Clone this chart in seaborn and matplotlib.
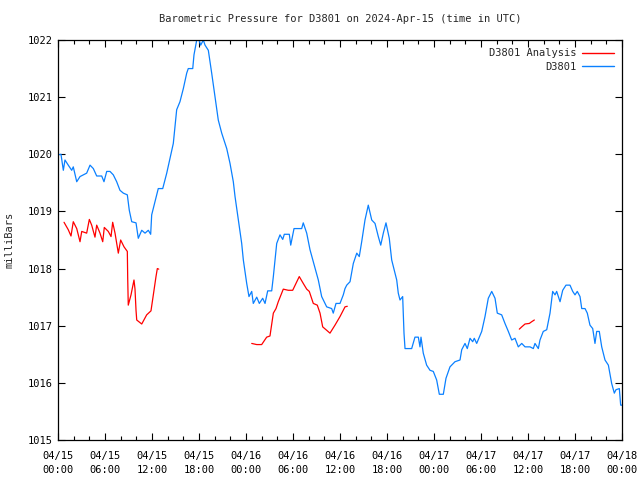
import pandas as pd
import seaborn as sns
import matplotlib.pyplot as plt
import matplotlib.dates as mdates

# Station pressure readings, hours since 2024-04-15 00:00 UTC
blue_hours = [0.0, 0.38, 0.68, 0.89, 1.31, 1.75, 1.95, 2.39, 2.81, 3.23, 3.66, 4.09, 4.51, 4.94,
              5.58, 5.87, 6.22, 6.64, 7.06, 7.49, 7.91, 8.34, 8.85, 9.10, 9.41, 9.96, 10.25, 10.69,
              11.11, 11.53, 11.83, 11.96, 12.60, 12.80, 13.37, 13.88, 14.30, 14.72, 15.15, 15.57,
              16.00, 16.43, 16.63, 17.20, 17.36, 17.71, 18.00, 18.22, 18.55, 18.77, 19.19, 19.62,
              20.04, 20.46, 20.90, 21.54, 21.96, 22.38, 22.60, 23.02, 23.45, 23.66, 24.09, 24.38,
              24.73, 24.93, 25.37, 25.70, 26.13, 26.43, 26.77, 27.28, 27.49, 27.92, 28.34, 28.69,
              28.89, 29.53, 29.71, 30.13, 31.11, 31.31, 31.75, 32.17, 32.59, 33.23, 33.66, 34.30,
              34.94, 35.14, 35.49, 36.00, 36.42, 36.64, 36.86, 37.28, 37.70, 38.14, 38.46, 38.77,
              39.19, 39.61, 40.05, 40.47, 40.89, 41.20, 41.53, 41.87, 42.29, 42.60, 43.24, 43.44,
              43.66, 44.00, 44.17, 44.30, 45.15, 45.57, 46.00, 46.21, 46.34, 46.63, 47.06, 47.49,
              47.91, 48.34, 48.68, 49.19, 49.53, 50.04, 50.68, 51.32, 51.54, 51.96, 52.25, 52.60,
              52.94, 53.14, 53.45, 54.09, 54.51, 54.93, 55.37, 55.79, 56.08, 56.64, 57.06, 57.49,
              57.92, 58.34, 58.76, 59.20, 59.62, 60.26, 60.68, 60.89, 61.32, 61.53, 61.95, 62.39,
              62.81, 63.15, 63.45, 63.66, 64.09, 64.43, 64.85, 65.36, 65.71, 66.00, 66.29, 66.64,
              66.86, 67.28, 67.57, 67.91, 68.26, 68.55, 68.77, 69.10, 69.41, 69.83, 70.26, 70.68,
              71.02, 71.23, 71.66, 71.83, 72.0]
blue_mb = [1019.99, 1020.00, 1019.72, 1019.90, 1019.81, 1019.72, 1019.78, 1019.52, 1019.61, 1019.64,
           1019.67, 1019.81, 1019.75, 1019.62, 1019.62, 1019.52, 1019.70, 1019.70, 1019.64, 1019.52,
           1019.37, 1019.32, 1019.29, 1019.02, 1018.82, 1018.80, 1018.53, 1018.67, 1018.62, 1018.67,
           1018.60, 1018.94, 1019.29, 1019.40, 1019.40, 1019.67, 1019.93, 1020.19, 1020.78, 1020.92,
           1021.15, 1021.42, 1021.50, 1021.50, 1021.74, 1022.00, 1022.00, 1021.91, 1022.00, 1021.91,
           1021.82, 1021.42, 1021.01, 1020.60, 1020.37, 1020.10, 1019.84, 1019.52, 1019.26, 1018.85,
           1018.44, 1018.15, 1017.74, 1017.51, 1017.60, 1017.39, 1017.50, 1017.39, 1017.48, 1017.39,
           1017.61, 1017.61, 1017.86, 1018.44, 1018.59, 1018.51, 1018.60, 1018.60, 1018.41, 1018.70,
           1018.70, 1018.80, 1018.62, 1018.33, 1018.12, 1017.80, 1017.51, 1017.33, 1017.30, 1017.22,
           1017.39, 1017.39, 1017.54, 1017.65, 1017.71, 1017.77, 1018.09, 1018.27, 1018.21, 1018.47,
           1018.85, 1019.11, 1018.85, 1018.79, 1018.56, 1018.41, 1018.62, 1018.80, 1018.53, 1018.15,
           1017.80, 1017.57, 1017.45, 1017.51, 1016.87, 1016.60, 1016.60, 1016.80, 1016.80, 1016.63,
           1016.80, 1016.52, 1016.31, 1016.22, 1016.20, 1016.05, 1015.80, 1015.80, 1016.08, 1016.28,
           1016.37, 1016.40, 1016.58, 1016.69, 1016.60, 1016.78, 1016.72, 1016.78, 1016.69, 1016.90,
           1017.16, 1017.48, 1017.60, 1017.48, 1017.22, 1017.19, 1017.04, 1016.90, 1016.75, 1016.78,
           1016.63, 1016.69, 1016.63, 1016.63, 1016.60, 1016.69, 1016.60, 1016.75, 1016.90, 1016.93,
           1017.22, 1017.60, 1017.54, 1017.60, 1017.42, 1017.62, 1017.71, 1017.71, 1017.60, 1017.54,
           1017.60, 1017.51, 1017.30, 1017.30, 1017.22, 1017.01, 1016.95, 1016.69, 1016.90, 1016.90,
           1016.63, 1016.40, 1016.31, 1015.99, 1015.82, 1015.88, 1015.90, 1015.61, 1015.61]

# Analysis series (three separate runs)
red_seg = [1] * 37 + [2] * 26 + [3] * 6
red_hours = [0.77, 1.31, 1.66, 1.95, 2.39, 2.81, 3.03, 3.66, 4.00, 4.30, 4.72, 4.94, 5.36, 5.71,
             5.91, 6.42, 6.77, 6.98, 7.28, 7.70, 8.00, 8.43, 8.85, 8.90, 8.97, 9.32, 9.70, 9.83,
             9.96, 10.05, 10.69, 11.32, 11.87, 12.17, 12.51, 12.68, 12.86,
             24.73, 25.37, 26.00, 26.64, 27.06, 27.49, 27.83, 28.12, 28.76, 29.40, 29.96, 30.38,
             30.80, 31.31, 31.75, 32.08, 32.59, 33.10, 33.45, 33.79, 34.30, 34.72, 35.36, 36.00,
             36.64, 36.93,
             58.89, 59.20, 59.62, 60.17, 60.47, 60.81]
red_mb = [1018.81, 1018.68, 1018.57, 1018.82, 1018.70, 1018.47, 1018.65, 1018.62, 1018.86, 1018.76,
          1018.55, 1018.76, 1018.62, 1018.47, 1018.72, 1018.65, 1018.56, 1018.81, 1018.62, 1018.27,
          1018.50, 1018.38, 1018.30, 1017.82, 1017.36, 1017.54, 1017.80, 1017.64, 1017.27, 1017.10,
          1017.03, 1017.19, 1017.26, 1017.54, 1017.86, 1018.00, 1017.99,
          1016.69, 1016.67, 1016.67, 1016.80, 1016.82, 1017.22, 1017.30, 1017.42, 1017.64, 1017.62,
          1017.62, 1017.74, 1017.86, 1017.74, 1017.64, 1017.60, 1017.39, 1017.36, 1017.22, 1016.98,
          1016.92, 1016.87, 1017.01, 1017.16, 1017.33, 1017.34,
          1016.94, 1016.98, 1017.03, 1017.04, 1017.07, 1017.10]

start = pd.Timestamp('2024-04-15 00:00')
end = pd.Timestamp('2024-04-18 00:00')
blue = pd.DataFrame({'time': start + pd.to_timedelta(blue_hours, unit='h'), 'mb': blue_mb})
red = pd.DataFrame({'time': start + pd.to_timedelta(red_hours, unit='h'), 'mb': red_mb, 'seg': red_seg})

sns.set_style('ticks')
plt.rcParams['font.family'] = ['DejaVu Sans Mono']

fig = plt.figure(figsize=(6.4, 4.8), dpi=100)
ax = fig.add_axes([58 / 640, 40 / 480, 564 / 640, 400 / 480])

sns.lineplot(data=red, x='time', y='mb', units='seg', estimator=None, color='#ff0000',
             linewidth=0.9, ax=ax)
sns.lineplot(data=blue, x='time', y='mb', color='#0a80ff', linewidth=0.9, ax=ax)

ax.set_xlim(start, end)
ax.set_ylim(1015, 1022)
ax.set_yticks(range(1015, 1023))
ax.xaxis.set_major_locator(mdates.HourLocator(byhour=[0, 6, 12, 18]))
ax.xaxis.set_minor_locator(mdates.HourLocator(interval=2))
ax.xaxis.set_major_formatter(mdates.DateFormatter('%m/%d\n%H:%M'))
ax.tick_params(axis='both', which='both', direction='in', top=True, right=True,
               labelsize=7.5, colors='black')
ax.tick_params(which='major', length=5, width=0.8)
ax.tick_params(which='minor', length=3, width=0.8)
ax.tick_params(axis='x', pad=8)
for lbl in ax.get_xticklabels():
    lbl.set_linespacing(1.45)
for s in ax.spines.values():
    s.set_color('black')
    s.set_linewidth(0.9)

ax.set_xlabel('')
ax.set_ylabel('milliBars', fontsize=7.5, labelpad=10)
ax.set_title('Barometric Pressure for D3801 on 2024-Apr-15 (time in UTC)', fontsize=7.5, pad=13)

handles = [plt.Line2D([], [], color='#ff0000', lw=1), plt.Line2D([], [], color='#0a80ff', lw=1)]
ax.legend(handles, ['D3801 Analysis', 'D3801'], loc='upper right', frameon=False,
          markerfirst=False, fontsize=7.5, handlelength=3.0, borderaxespad=0.4,
          labelspacing=0.35, handletextpad=0.6)

fig.savefig('out.png', dpi=100)
